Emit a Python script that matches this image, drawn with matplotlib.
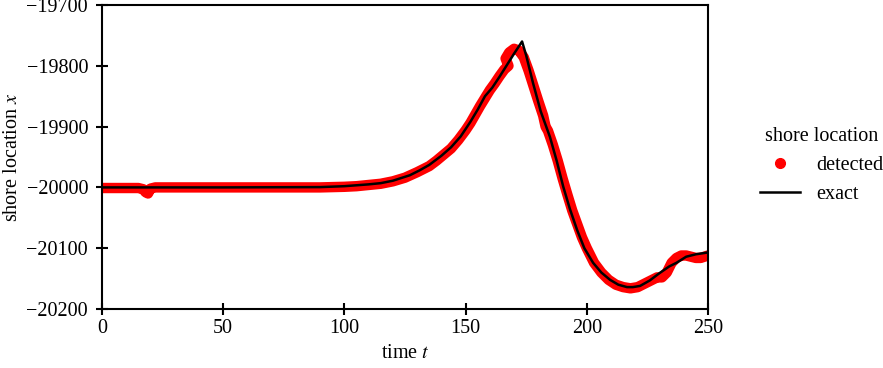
import matplotlib
matplotlib.use("Agg")
import matplotlib.pyplot as plt
from matplotlib.lines import Line2D

# Posición exacta de la orilla
t_exacto = [0, 50, 90, 100, 110, 115, 120, 127, 131, 135, 140, 144, 148, 152,
            155, 158, 161, 164, 167, 170, 173.3, 175, 177.8, 181, 184.8, 187.5,
            190.3, 193, 196, 199, 202.6, 206, 209.6, 213, 216.6, 219, 222, 226,
            230, 234, 237, 241, 245, 250]
x_exacto = [-20000, -20000, -19999.5, -19998, -19995, -19993, -19989, -19980,
            -19972, -19963, -19948, -19934, -19916, -19892, -19872, -19850,
            -19836, -19818, -19799, -19780, -19760, -19783, -19828, -19875,
            -19917, -19955, -19999, -20035, -20070, -20100, -20124, -20140,
            -20152, -20160, -20164, -20164, -20162, -20153, -20141, -20130,
            -20124, -20114, -20110, -20107]

# Posición detectada
t_detectado = [0, 5, 10, 15, 17, 18, 19, 20, 22, 30, 40, 50, 60, 70, 80, 90,
               100, 105, 110, 115, 120, 125, 130, 135, 138, 141, 144, 147, 150,
               152, 154, 156, 158, 160, 162, 164, 166, 167.7, 166.5, 168, 170,
               172, 174, 176, 178, 180, 182, 183, 184, 186, 188, 190, 192, 194,
               196, 198, 200, 203, 206, 209, 212, 215, 218, 221, 224, 227, 229,
               231, 233, 235, 237, 239, 241, 243, 245, 247, 250]
x_detectado = [-20001, -20001, -20001, -20001, -20003, -20008, -20010, -20002,
               -20000, -20000, -20000, -20000, -20000, -20000, -20000, -20000,
               -19999, -19998, -19996, -19994, -19990, -19984, -19975, -19965,
               -19956, -19946, -19936, -19922, -19906, -19894, -19880, -19866,
               -19853, -19840, -19829, -19817, -19806, -19800, -19788, -19778,
               -19772, -19775, -19786, -19808, -19833, -19858, -19882, -19900,
               -19907, -19930, -19956, -19985, -20012, -20038, -20060, -20082,
               -20100, -20124, -20140, -20152, -20160, -20164, -20166, -20164,
               -20158, -20152, -20148, -20148, -20140, -20124, -20116, -20112,
               -20112, -20114, -20116, -20116, -20112]

plt.rcParams['font.family'] = ['Liberation Serif', 'DejaVu Serif']
plt.rcParams['mathtext.fontset'] = 'stix'
plt.rcParams['font.size'] = 14.5

fig = plt.figure(figsize=(8.83, 3.68), dpi=100)
ax = fig.add_axes([0.1155, 0.1603, 0.6863, 0.8261])

ax.plot(t_detectado, x_detectado, color='red', lw=7.5,
        solid_joinstyle='round', solid_capstyle='round')
ax.plot(t_exacto, x_exacto, color='black', lw=1.8)

ax.set_xlim(0, 250)
ax.set_ylim(-20200, -19700)
ax.set_xticks([0, 50, 100, 150, 200, 250])
ax.set_yticks([-20200, -20100, -20000, -19900, -19800, -19700])
ax.tick_params(direction='inout', length=8, width=1.5, top=False, right=False)
ax.tick_params(axis='y', pad=6)
for s in ax.spines.values():
    s.set_linewidth(1.5)
ax.set_xlabel('time $t$')
ax.set_ylabel('shore location $x$', labelpad=3)

handles = [Line2D([], [], color='red', marker='o', ls='none', ms=7),
           Line2D([], [], color='black', lw=1.8)]
fig.legend(handles, ['detected', 'exact'], title='shore location',
           loc='center left', bbox_to_anchor=(0.84, 0.55), frameon=False)

fig.savefig('out.png', dpi=100)
